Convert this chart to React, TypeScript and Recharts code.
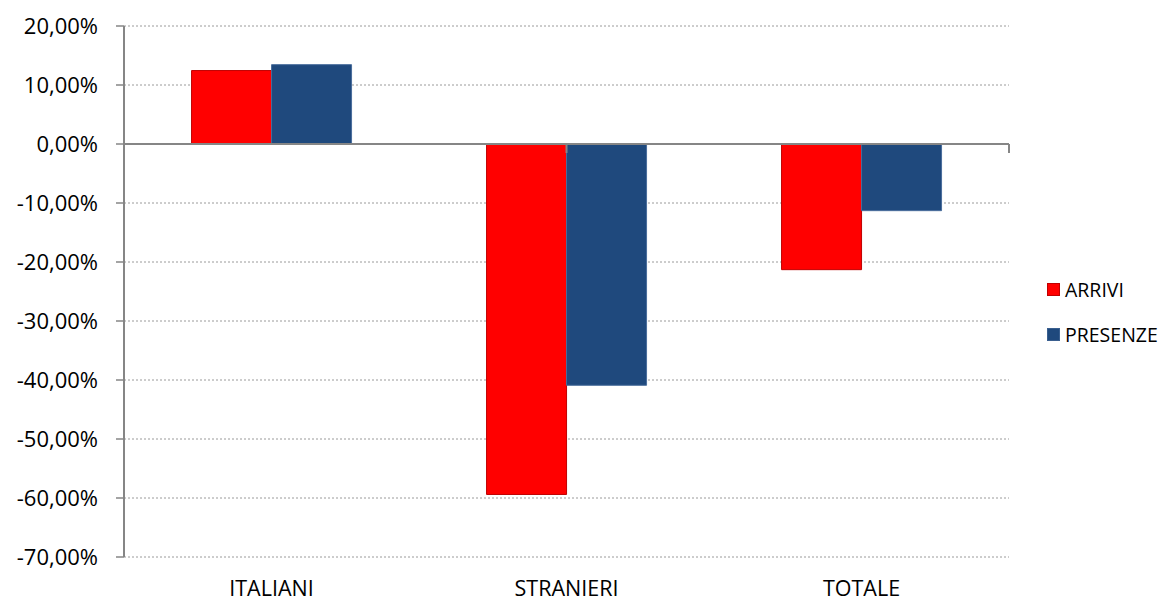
import React from "react";
import {
  BarChart,
  Bar,
  XAxis,
  YAxis,
  CartesianGrid,
  ReferenceLine,
  ReferenceDot,
  Legend,
} from "recharts";

const categories = ["ITALIANI", "STRANIERI", "TOTALE"];
const arrivi = [12.45, -59.4, -21.3];
const presenze = [13.45, -40.9, -11.3];
const yTicks = [20, 10, 0, -10, -20, -30, -40, -50, -60, -70];
const boundaries = [1, 2, 3];

const data = categories.map((c, i) => ({ name: c, ARRIVI: arrivi[i], PRESENZE: presenze[i] }));

const FONT = "'Open Sans', sans-serif";
const RED = "#FF0000";
const BLUE = "#1F497D";

const fmt = (v: number) => v.toFixed(2).replace(".", ",") + "%";

const CatTick = (props: any) => {
  const { x, payload } = props;
  return (
    <text x={x} y={596} textAnchor="middle" fontFamily={FONT} fontSize={21.5} fill="#000">
      {payload.value}
    </text>
  );
};

const TickMark = (props: any) => {
  const { cx, cy } = props;
  return <line x1={cx} y1={cy} x2={cx} y2={cy + 9} stroke="#868686" strokeWidth={2} />;
};

const LegendContent = () => {
  const items = [
    { label: "ARRIVI", fill: RED, stroke: "#C00000" },
    { label: "PRESENZE", fill: BLUE, stroke: "#3A5F8F" },
  ];
  return (
    <div style={{ fontFamily: FONT, fontSize: 19.5, color: "#000" }}>
      {items.map((it) => (
        <div key={it.label} style={{ display: "flex", alignItems: "center", height: 45 }}>
          <div
            style={{
              width: 11,
              height: 11,
              background: it.fill,
              border: `1px solid ${it.stroke}`,
              marginRight: 5,
            }}
          />
          <span style={{ lineHeight: "45px" }}>{it.label}</span>
        </div>
      ))}
    </div>
  );
};

export default function App() {
  return (
    <div style={{ position: "absolute", left: 0, top: 0, width: 1168, height: 601, background: "#fff" }}>
      <BarChart
        width={1168}
        height={601}
        data={data}
        margin={{ top: 26, right: 38, left: 0, bottom: 0 }}
        barGap={0}
        barCategoryGap="22.9%"
      >
        <CartesianGrid vertical={false} stroke="#9a9a9a" strokeDasharray="2 2" strokeWidth={1} />
        <XAxis
          dataKey="name"
          axisLine={false}
          tickLine={false}
          height={44}
          tick={<CatTick />}
          interval={0}
        />
        <XAxis xAxisId="b" type="number" domain={[0, 3]} hide />
        <YAxis
          width={124}
          domain={[-70, 20]}
          ticks={yTicks}
          interval={0}
          tickFormatter={fmt}
          axisLine={{ stroke: "#868686", strokeWidth: 2 }}
          tickLine={{ stroke: "#868686", strokeWidth: 1.5 }}
          tickSize={8}
          tickMargin={18}
          tick={{ fontFamily: FONT, fontSize: 22, fill: "#000" }}
        />
        <Legend
          layout="horizontal"
          verticalAlign="middle"
          align="right"
          content={<LegendContent />}
          wrapperStyle={{ left: 1047, top: 267, width: 121, right: "auto", bottom: "auto" }}
        />
        <Bar dataKey="ARRIVI" fill={RED} stroke="#C00000" strokeWidth={1} isAnimationActive={false} />
        <Bar dataKey="PRESENZE" fill={BLUE} stroke="#4A6E9C" strokeWidth={1} isAnimationActive={false} />
        <ReferenceLine y={0} stroke="#868686" strokeWidth={2} />
        {boundaries.map((b) => (
          <ReferenceDot key={b} xAxisId="b" x={b} y={0} shape={<TickMark />} ifOverflow="visible" />
        ))}
      </BarChart>
    </div>
  );
}
